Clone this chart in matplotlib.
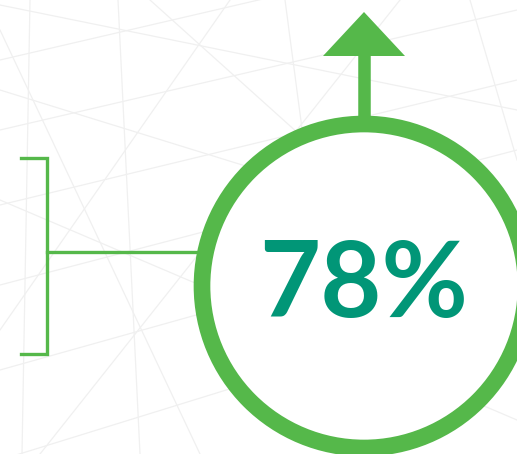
import matplotlib
matplotlib.use("Agg")
import matplotlib.pyplot as plt
from matplotlib.patches import Circle, Polygon

# Headline figure
value = 78
label = f"{value}%"

# Colours
ring_color = "#55b84a"
text_color = "#019677"
grid_color = "#f0f0f0"

# Faint perspective grid in the background (start, end points)
grid_lines = [
    ((0, 60), (517, -60)), ((0, 130), (517, 10)), ((0, 205), (517, 80)),
    ((0, 285), (517, 150)), ((0, 370), (517, 225)), ((0, 460), (517, 300)),
    ((0, 5), (517, 110)), ((0, 90), (517, 250)), ((0, 200), (517, 420)),
    ((30, 0), (22, 454)), ((118, 0), (140, 454)), ((285, 0), (345, 454)),
    ((470, 0), (517, 160)), ((0, 330), (230, 0)), ((40, 454), (400, 0)),
    ((0, 30), (200, 454)), ((150, 0), (517, 330)),
]

fig = plt.figure(figsize=(5.17, 4.54), dpi=100)
ax = fig.add_axes([0, 0, 1, 1])
ax.set_xlim(0, 517)
ax.set_ylim(454, 0)
ax.set_aspect("equal")
ax.axis("off")

for (x0, y0), (x1, y1) in grid_lines:
    ax.plot([x0, x1], [y0, y1], color=grid_color, lw=0.9, zorder=0)

# Ring
cx, cy, r = 364, 286, 162
ax.add_patch(Circle((cx, cy), r, facecolor="white", edgecolor=ring_color,
                    lw=12, zorder=3))

# Arrow out of the top of the ring
ax.plot([cx, cx], [cy - r, 54], color=ring_color, lw=9,
        solid_capstyle="butt", zorder=2)
ax.add_patch(Polygon([(323, 56), (405, 56), (cx, 12)], closed=True,
                     facecolor=ring_color, edgecolor="none", zorder=2))

# Bracket and connector on the left
bx, btop, bbot, bleft = 47, 158, 354, 21
ax.plot([bleft, bx, bx, bleft], [btop, btop, bbot, bbot], color=ring_color,
        lw=2.4, solid_joinstyle="miter", zorder=2)
ax.plot([bx, cx - r], [252, 252], color=ring_color, lw=2.4, zorder=2)

ax.text(cx, 317, label, color=text_color, fontsize=76, fontweight="bold",
        family=["Lato", "DejaVu Sans"], ha="center", va="baseline", zorder=4)

fig.savefig("out.png", dpi=100, facecolor="white")
